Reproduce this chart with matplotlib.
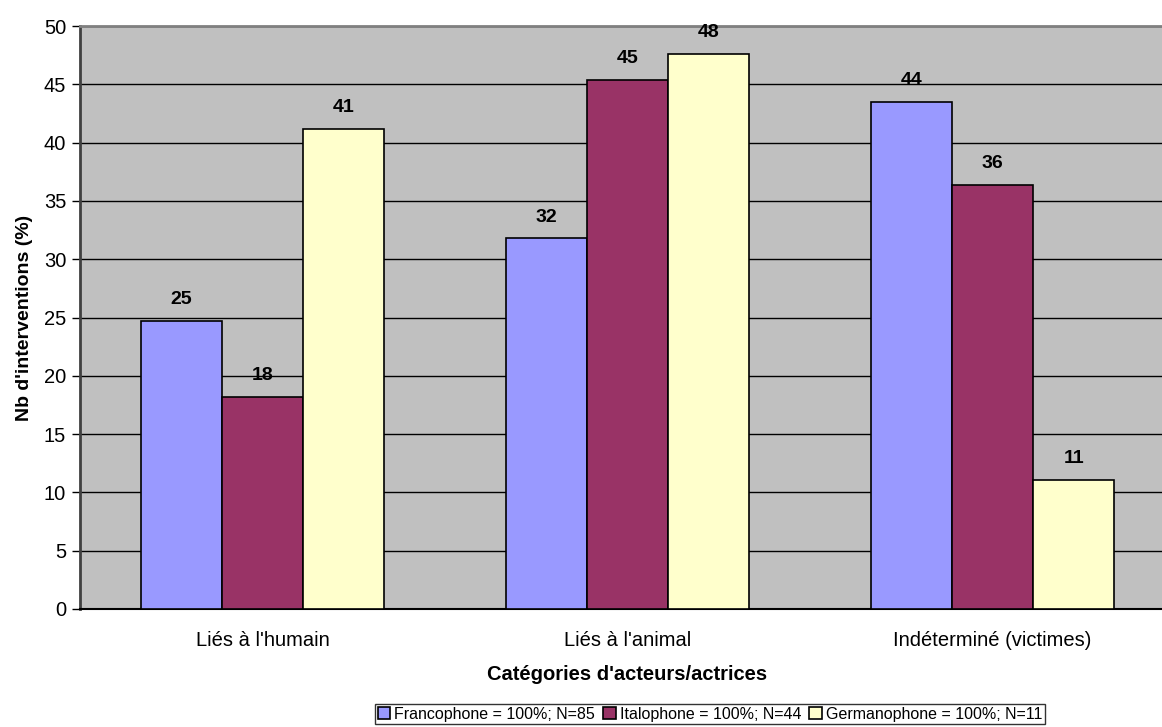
import matplotlib
matplotlib.use("Agg")
import matplotlib.pyplot as plt
import numpy as np

plt.rcParams['font.family'] = ['Liberation Sans', 'DejaVu Sans']

categories = ["Liés à l'humain", "Liés à l'animal", "Indéterminé (victimes)"]
series_names = ["Francophone = 100%; N=85",
                "Italophone = 100%; N=44",
                "Germanophone = 100%; N=11"]
francophone = [24.7, 31.8, 43.5]
italophone = [18.2, 45.4, 36.4]
germanophone = [41.2, 47.6, 11.1]
series_values = [francophone, italophone, germanophone]
colors = ["#9999FF", "#993366", "#FFFFCC"]
yticks = [0, 5, 10, 15, 20, 25, 30, 35, 40, 45, 50]

fig = plt.figure(figsize=(11.62, 7.27), dpi=100)
ax = fig.add_axes([80 / 1162, 118 / 727, 1095 / 1162, 583 / 727])
ax.set_facecolor("#C0C0C0")

x = np.arange(len(categories))
bar_w = 1 / 4.5
for i, (vals, col, name) in enumerate(zip(series_values, colors, series_names)):
    pos = x + (i - 1) * bar_w
    bars = ax.bar(pos, vals, width=bar_w, color=col, edgecolor="black",
                  linewidth=1.2, label=name, zorder=3)
    for b, v in zip(bars, vals):
        ax.annotate(f"{v:.0f}", (b.get_x() + b.get_width() / 2, v),
                    xytext=(0, 9), textcoords="offset points",
                    ha="center", va="bottom", fontsize=14, fontweight="bold")

ax.set_xlim(-0.5, 2.5)
ax.set_ylim(0, 50)
ax.set_yticks(yticks)
ax.set_yticklabels([str(t) for t in yticks], fontsize=14.5)
ax.set_xticks(x)
ax.set_xticklabels(categories, fontsize=14.5)
ax.tick_params(axis="x", length=0, pad=16)
ax.tick_params(axis="y", length=6, width=1, color="black", pad=4)
ax.yaxis.grid(True, color="black", linewidth=1)
ax.set_axisbelow(True)

ax.spines["right"].set_visible(False)
ax.spines["top"].set_color("#808080")
ax.spines["top"].set_linewidth(2)
ax.spines["left"].set_color("#404040")
ax.spines["left"].set_linewidth(2)
ax.spines["bottom"].set_color("black")
ax.spines["bottom"].set_linewidth(1.5)

ax.set_ylabel("Nb d'interventions (%)", fontsize=14, fontweight="bold", labelpad=8)
ax.set_xlabel("Catégories d'acteurs/actrices", fontsize=14.5, fontweight="bold", labelpad=11)

leg = fig.legend(loc="center", bbox_to_anchor=(710 / 1162, 1 - 714 / 727),
                 ncol=3, fontsize=11.5, frameon=True, fancybox=False,
                 edgecolor="black", handlelength=0.8, handleheight=0.8,
                 handletextpad=0.25, columnspacing=0.5, borderpad=0.15,
                 borderaxespad=0)
leg.get_frame().set_linewidth(1)

fig.savefig("out.png", dpi=100, facecolor="white")
